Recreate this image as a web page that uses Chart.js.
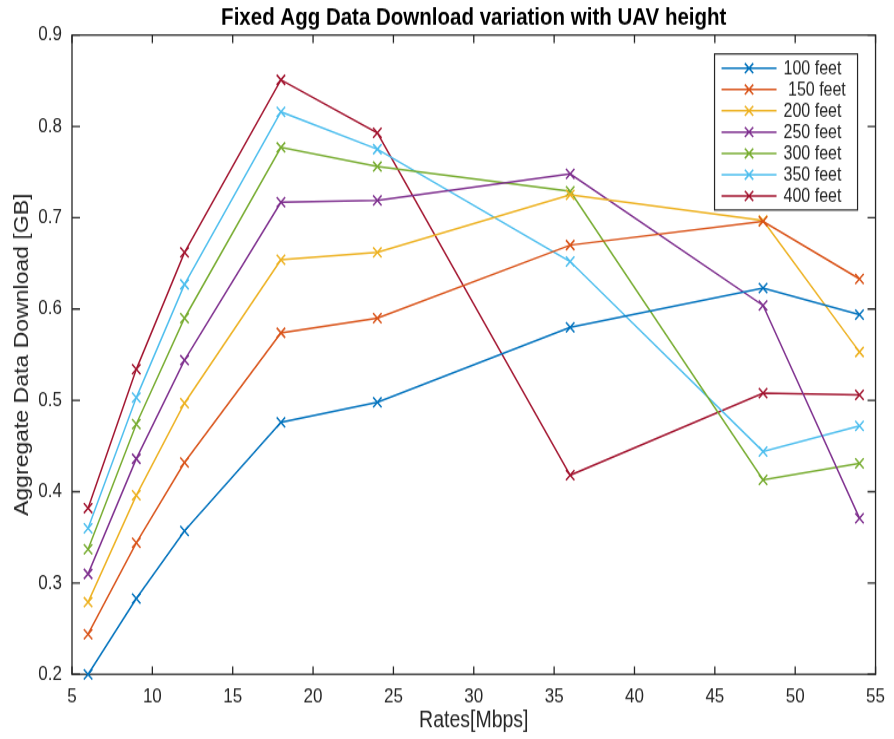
<!DOCTYPE html>
<html>
<head>
<meta charset="utf-8">
<title>Fixed Agg Data Download variation with UAV height</title>
<script src="https://cdn.jsdelivr.net/npm/chart.js@4.4.1/dist/chart.umd.min.js"></script>
<style>
  html, body { margin: 0; padding: 0; background: #ffffff; }
</style>
</head>
<body>
<!-- the figure is rendered at 894x626 and shown stretched to 894x739 -->
<canvas id="plot" width="894" height="626" style="display:block;width:894px;height:739px;"></canvas>
<script>
// Data rates (Mbps) along the horizontal axis
const rates = [6, 9, 12, 18, 24, 36, 48, 54];

// Aggregate data downloaded (GB) for each UAV height
const feet100 = [0.200, 0.283, 0.357, 0.476, 0.498, 0.580, 0.623, 0.594];
const feet150 = [0.244, 0.344, 0.432, 0.574, 0.590, 0.670, 0.696, 0.633];
const feet200 = [0.279, 0.396, 0.497, 0.654, 0.662, 0.725, 0.697, 0.553];
const feet250 = [0.310, 0.436, 0.544, 0.717, 0.719, 0.748, 0.604, 0.371];
const feet300 = [0.337, 0.474, 0.590, 0.777, 0.756, 0.729, 0.413, 0.431];
const feet350 = [0.360, 0.503, 0.627, 0.816, 0.775, 0.652, 0.444, 0.472];
const feet400 = [0.382, 0.534, 0.662, 0.851, 0.793, 0.418, 0.508, 0.506];

const seriesNames = ['100 feet', ' 150 feet', '200 feet', '250 feet', '300 feet', '350 feet', '400 feet'];
const seriesValues = [feet100, feet150, feet200, feet250, feet300, feet350, feet400];

// Axis tick values
const xTickValues = [5, 10, 15, 20, 25, 30, 35, 40, 45, 50, 55];
const yTickValues = [0.2, 0.3, 0.4, 0.5, 0.6, 0.7, 0.8, 0.9];

// Default MATLAB line colour order
const lineColors = ['#0072BD', '#D95319', '#EDB120', '#7E2F8E', '#77AC30', '#4DBEEE', '#A2142F'];

const FONT = "'Liberation Sans', Arial, Helvetica, sans-serif";
const AXIS_COLOR = '#262626';

// Axes box with inward tick marks on all four sides
const axesBox = {
  id: 'axesBox',
  beforeDatasetsDraw(chart) {
    const { ctx, chartArea: a, scales: { x, y } } = chart;
    const tickX = 6.8;   // length of ticks on the horizontal axes
    const tickY = 8;     // length of ticks on the vertical axes
    ctx.save();
    ctx.strokeStyle = AXIS_COLOR;
    ctx.lineWidth = 1.3;
    ctx.beginPath();
    x.ticks.forEach(t => {
      const px = x.getPixelForValue(t.value);
      ctx.moveTo(px, a.bottom); ctx.lineTo(px, a.bottom - tickX);
      ctx.moveTo(px, a.top);    ctx.lineTo(px, a.top + tickX);
    });
    y.ticks.forEach(t => {
      const py = y.getPixelForValue(t.value);
      ctx.moveTo(a.left, py);  ctx.lineTo(a.left + tickY, py);
      ctx.moveTo(a.right, py); ctx.lineTo(a.right - tickY, py);
    });
    ctx.stroke();
    ctx.strokeRect(a.left, a.top, a.right - a.left, a.bottom - a.top);
    ctx.restore();
  }
};

// Boxed legend in the upper right corner, line plus marker per series
const boxedLegend = {
  id: 'boxedLegend',
  afterDraw(chart) {
    const { ctx, chartArea: a } = chart;
    const right = a.right - 18;
    const left = right - 143;
    const top = a.top + 16;
    const rowH = 18.03;
    const sets = chart.data.datasets;
    const bottom = top + 24 + rowH * (sets.length - 1);
    ctx.save();
    ctx.fillStyle = '#ffffff';
    ctx.fillRect(left, top, right - left, bottom - top);
    ctx.strokeStyle = AXIS_COLOR;
    ctx.lineWidth = 1.2;
    ctx.strokeRect(left, top, right - left, bottom - top);
    ctx.font = '16px ' + FONT;
    ctx.textBaseline = 'middle';
    ctx.textAlign = 'left';
    sets.forEach((ds, i) => {
      const cy = top + 12.1 + i * rowH;
      const mx = left + 34.5;
      ctx.strokeStyle = ds.borderColor;
      ctx.lineWidth = 1.5;
      ctx.beginPath();
      ctx.moveTo(left + 7, cy); ctx.lineTo(left + 62, cy);
      const r = 4.2;
      ctx.moveTo(mx - r, cy - r); ctx.lineTo(mx + r, cy + r);
      ctx.moveTo(mx - r, cy + r); ctx.lineTo(mx + r, cy - r);
      ctx.stroke();
      ctx.fillStyle = AXIS_COLOR;
      ctx.fillText(ds.label, left + 69, cy + 0.5);
    });
    ctx.restore();
  }
};

const datasets = seriesNames.map((name, i) => ({
  label: name,
  data: rates.map((r, j) => ({ x: r, y: seriesValues[i][j] })),
  borderColor: lineColors[i],
  backgroundColor: lineColors[i],
  borderWidth: 1.5,
  tension: 0,
  pointStyle: 'crossRot',
  pointRadius: 6,
  pointHoverRadius: 6,
  pointBorderWidth: 1.5,
  pointBorderColor: lineColors[i],
  clip: false
}));

new Chart(document.getElementById('plot'), {
  type: 'line',
  data: { datasets },
  plugins: [axesBox, boxedLegend],
  options: {
    responsive: false,
    animation: false,
    devicePixelRatio: 1,
    events: [],
    layout: { padding: { left: 0, right: 13, top: 0, bottom: 0 } },
    plugins: {
      legend: { display: false },
      tooltip: { enabled: false },
      title: {
        display: true,
        text: 'Fixed Agg Data Download variation with UAV height',
        color: '#000000',
        fullSize: false,
        font: { family: FONT, size: 20.5, weight: 'bold' },
        padding: { top: 3.1, bottom: 2.0 }
      }
    },
    scales: {
      x: {
        type: 'linear',
        min: 5,
        max: 55,
        grid: { display: false, drawTicks: false },
        border: { display: false },
        afterBuildTicks(scale) { scale.ticks = xTickValues.map(v => ({ value: v })); },
        afterFit(scale) { scale.height = 54.8; },
        ticks: {
          color: AXIS_COLOR,
          padding: 9,
          maxRotation: 0,
          autoSkip: false,
          font: { family: FONT, size: 17 },
          callback: v => String(v)
        },
        title: {
          display: true,
          text: 'Rates[Mbps]',
          color: AXIS_COLOR,
          font: { family: FONT, size: 19.5 },
          padding: { top: 0, bottom: 3.3 }
        }
      },
      y: {
        type: 'linear',
        min: 0.2,
        max: 0.9,
        grid: { display: false, drawTicks: false },
        border: { display: false },
        afterBuildTicks(scale) { scale.ticks = yTickValues.map(v => ({ value: v })); },
        afterFit(scale) { scale.width = 72; },
        ticks: {
          color: AXIS_COLOR,
          padding: 10,
          autoSkip: false,
          font: { family: FONT, size: 17 },
          callback: v => v.toFixed(1)
        },
        title: {
          display: true,
          text: 'Aggregate Data Download [GB]',
          color: AXIS_COLOR,
          font: { family: FONT, size: 19.5 },
          padding: { top: 11.3, bottom: 0 }
        }
      }
    }
  }
});
</script>
</body>
</html>
